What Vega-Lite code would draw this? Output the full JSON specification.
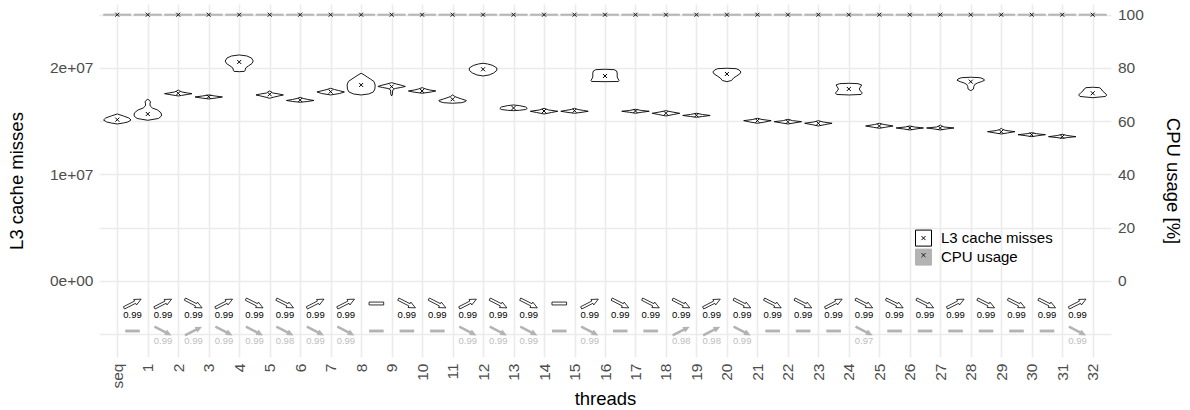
{
 "$schema": "https://vega.github.io/schema/vega-lite/v6.json",
 "width": 1012, "height": 353,
 "autosize": {"type": "none"},
 "padding": {"left": 99, "top": 4, "right": 79, "bottom": 53},
 "background": "white",
 "config": {
  "view": {"stroke": null},
  "font": "Liberation Sans",
  "axis": {"ticks": false, "domain": false, "labelFont": "Liberation Sans", "titleFont": "Liberation Sans", "labelColor": "#4d4d4d", "labelFontSize": 15.5, "titleColor": "black", "titleFontSize": 18.5, "titleFontWeight": "normal", "gridColor": "#ebebeb", "gridWidth": 1.6},
  "axisX": {"labelAngle": -90, "labelOverlap": false, "labelBound": false, "labelFlush": false, "labelPadding": 6, "titlePadding": 2, "labelSeparation": 0}
 },
 "datasets": {
  "l3v": [
   {"t":0,"v":15681000,"w":0},{"t":0,"v":15493000,"w":0.2},{"t":0,"v":15305000,"w":0.38},{"t":0,"v":15117000,"w":0.45},{"t":0,"v":14930000,"w":0.35},{"t":0,"v":14836000,"w":0.2},{"t":0,"v":14742000,"w":0},
   {"t":1,"v":17061000,"w":0},{"t":1,"v":16948000,"w":0.06},{"t":1,"v":16808000,"w":0.09},{"t":1,"v":16620000,"w":0.07},{"t":1,"v":16432000,"w":0.08},{"t":1,"v":16244000,"w":0.15},{"t":1,"v":16056000,"w":0.32},{"t":1,"v":15775000,"w":0.44},{"t":1,"v":15493000,"w":0.45},{"t":1,"v":15258000,"w":0.35},{"t":1,"v":15089000,"w":0},
   {"t":2,"v":17934000,"w":0},{"t":2,"v":17840000,"w":0.05},{"t":2,"v":17747000,"w":0.12},{"t":2,"v":17653000,"w":0.3},{"t":2,"v":17587000,"w":0.45},{"t":2,"v":17512000,"w":0.3},{"t":2,"v":17418000,"w":0.1},{"t":2,"v":17371000,"w":0},
   {"t":3,"v":17465000,"w":0},{"t":3,"v":17371000,"w":0.2},{"t":3,"v":17277000,"w":0.45},{"t":3,"v":17183000,"w":0.25},{"t":3,"v":17089000,"w":0},
   {"t":4,"v":21221000,"w":0},{"t":4,"v":21127000,"w":0.25},{"t":4,"v":20939000,"w":0.4},{"t":4,"v":20657000,"w":0.46},{"t":4,"v":20423000,"w":0.42},{"t":4,"v":20188000,"w":0.3},{"t":4,"v":20000000,"w":0.21},{"t":4,"v":19765000,"w":0.19},{"t":4,"v":19680000,"w":0.17},{"t":4,"v":19653000,"w":0},
   {"t":5,"v":17840000,"w":0},{"t":5,"v":17747000,"w":0.06},{"t":5,"v":17653000,"w":0.1},{"t":5,"v":17559000,"w":0.3},{"t":5,"v":17465000,"w":0.45},{"t":5,"v":17371000,"w":0.3},{"t":5,"v":17249000,"w":0.12},{"t":5,"v":17155000,"w":0},
   {"t":6,"v":17249000,"w":0},{"t":6,"v":17136000,"w":0.1},{"t":6,"v":17042000,"w":0.25},{"t":6,"v":16948000,"w":0.45},{"t":6,"v":16855000,"w":0.25},{"t":6,"v":16779000,"w":0},
   {"t":7,"v":18094000,"w":0},{"t":7,"v":17981000,"w":0.12},{"t":7,"v":17887000,"w":0.25},{"t":7,"v":17747000,"w":0.45},{"t":7,"v":17606000,"w":0.3},{"t":7,"v":17465000,"w":0},
   {"t":8,"v":19502000,"w":0},{"t":8,"v":19343000,"w":0.1},{"t":8,"v":19155000,"w":0.2},{"t":8,"v":18967000,"w":0.3},{"t":8,"v":18733000,"w":0.42},{"t":8,"v":18404000,"w":0.46},{"t":8,"v":18028000,"w":0.45},{"t":8,"v":17747000,"w":0.4},{"t":8,"v":17559000,"w":0.25},{"t":8,"v":17465000,"w":0},
   {"t":9,"v":18620000,"w":0},{"t":9,"v":18498000,"w":0.15},{"t":9,"v":18357000,"w":0.35},{"t":9,"v":18263000,"w":0.45},{"t":9,"v":18169000,"w":0.3},{"t":9,"v":18075000,"w":0.12},{"t":9,"v":17981000,"w":0.05},{"t":9,"v":17840000,"w":0.03},{"t":9,"v":17559000,"w":0.03},{"t":9,"v":17371000,"w":0},
   {"t":10,"v":18150000,"w":0},{"t":10,"v":18028000,"w":0.12},{"t":10,"v":17934000,"w":0.25},{"t":10,"v":17840000,"w":0.45},{"t":10,"v":17747000,"w":0.3},{"t":10,"v":17624000,"w":0},
   {"t":11,"v":17465000,"w":0},{"t":11,"v":17324000,"w":0.07},{"t":11,"v":17230000,"w":0.15},{"t":11,"v":17089000,"w":0.3},{"t":11,"v":16948000,"w":0.45},{"t":11,"v":16855000,"w":0.43},{"t":11,"v":16742000,"w":0.3},{"t":11,"v":16686000,"w":0},
   {"t":12,"v":20441000,"w":0},{"t":12,"v":20376000,"w":0.15},{"t":12,"v":20235000,"w":0.32},{"t":12,"v":20000000,"w":0.45},{"t":12,"v":19765000,"w":0.45},{"t":12,"v":19531000,"w":0.35},{"t":12,"v":19343000,"w":0.2},{"t":12,"v":19249000,"w":0},
   {"t":13,"v":16526000,"w":0},{"t":13,"v":16460000,"w":0.2},{"t":13,"v":16338000,"w":0.4},{"t":13,"v":16197000,"w":0.45},{"t":13,"v":16103000,"w":0.4},{"t":13,"v":16028000,"w":0.2},{"t":13,"v":15991000,"w":0},
   {"t":14,"v":16216000,"w":0},{"t":14,"v":16056000,"w":0.15},{"t":14,"v":15934000,"w":0.45},{"t":14,"v":15822000,"w":0.25},{"t":14,"v":15681000,"w":0},
   {"t":15,"v":16216000,"w":0},{"t":15,"v":16103000,"w":0.1},{"t":15,"v":16009000,"w":0.3},{"t":15,"v":15934000,"w":0.45},{"t":15,"v":15840000,"w":0.25},{"t":15,"v":15747000,"w":0},
   {"t":16,"v":19878000,"w":0},{"t":16,"v":19840000,"w":0.3},{"t":16,"v":19718000,"w":0.38},{"t":16,"v":19531000,"w":0.4},{"t":16,"v":19155000,"w":0.4},{"t":16,"v":18967000,"w":0.43},{"t":16,"v":18826000,"w":0.46},{"t":16,"v":18733000,"w":0.44},{"t":16,"v":18714000,"w":0},
   {"t":17,"v":16122000,"w":0},{"t":17,"v":16009000,"w":0.2},{"t":17,"v":15934000,"w":0.45},{"t":17,"v":15840000,"w":0.2},{"t":17,"v":15747000,"w":0},
   {"t":18,"v":15991000,"w":0},{"t":18,"v":15869000,"w":0.2},{"t":18,"v":15747000,"w":0.45},{"t":18,"v":15634000,"w":0.25},{"t":18,"v":15493000,"w":0},
   {"t":19,"v":15747000,"w":0},{"t":19,"v":15634000,"w":0.2},{"t":19,"v":15540000,"w":0.45},{"t":19,"v":15446000,"w":0.2},{"t":19,"v":15371000,"w":0},
   {"t":20,"v":19972000,"w":0},{"t":20,"v":19934000,"w":0.3},{"t":20,"v":19812000,"w":0.4},{"t":20,"v":19624000,"w":0.46},{"t":20,"v":19437000,"w":0.42},{"t":20,"v":19249000,"w":0.32},{"t":20,"v":19061000,"w":0.22},{"t":20,"v":18826000,"w":0.15},{"t":20,"v":18714000,"w":0},
   {"t":21,"v":15277000,"w":0},{"t":21,"v":15164000,"w":0.15},{"t":21,"v":15052000,"w":0.45},{"t":21,"v":14930000,"w":0.25},{"t":21,"v":14808000,"w":0},
   {"t":22,"v":15183000,"w":0},{"t":22,"v":15052000,"w":0.15},{"t":22,"v":14958000,"w":0.45},{"t":22,"v":14836000,"w":0.2},{"t":22,"v":14742000,"w":0},
   {"t":23,"v":15052000,"w":0},{"t":23,"v":14930000,"w":0.15},{"t":23,"v":14808000,"w":0.45},{"t":23,"v":14676000,"w":0.2},{"t":23,"v":14554000,"w":0},
   {"t":24,"v":18563000,"w":0},{"t":24,"v":18526000,"w":0.3},{"t":24,"v":18404000,"w":0.42},{"t":24,"v":18216000,"w":0.38},{"t":24,"v":18028000,"w":0.34},{"t":24,"v":17840000,"w":0.38},{"t":24,"v":17653000,"w":0.44},{"t":24,"v":17512000,"w":0.4},{"t":24,"v":17465000,"w":0},
   {"t":25,"v":14808000,"w":0},{"t":25,"v":14695000,"w":0.15},{"t":25,"v":14554000,"w":0.45},{"t":25,"v":14432000,"w":0.2},{"t":25,"v":14338000,"w":0},
   {"t":26,"v":14554000,"w":0},{"t":26,"v":14460000,"w":0.15},{"t":26,"v":14366000,"w":0.45},{"t":26,"v":14272000,"w":0.2},{"t":26,"v":14178000,"w":0},
   {"t":27,"v":14648000,"w":0},{"t":27,"v":14554000,"w":0.05},{"t":27,"v":14460000,"w":0.12},{"t":27,"v":14366000,"w":0.45},{"t":27,"v":14272000,"w":0.2},{"t":27,"v":14178000,"w":0},
   {"t":28,"v":19127000,"w":0},{"t":28,"v":19089000,"w":0.3},{"t":28,"v":18967000,"w":0.42},{"t":28,"v":18845000,"w":0.45},{"t":28,"v":18714000,"w":0.35},{"t":28,"v":18592000,"w":0.22},{"t":28,"v":18451000,"w":0.13},{"t":28,"v":18263000,"w":0.1},{"t":28,"v":18028000,"w":0.09},{"t":28,"v":17869000,"w":0},
   {"t":29,"v":14338000,"w":0},{"t":29,"v":14225000,"w":0.05},{"t":29,"v":14131000,"w":0.15},{"t":29,"v":14019000,"w":0.45},{"t":29,"v":13897000,"w":0.2},{"t":29,"v":13803000,"w":0},
   {"t":30,"v":13925000,"w":0},{"t":30,"v":13831000,"w":0.15},{"t":30,"v":13737000,"w":0.45},{"t":30,"v":13643000,"w":0.2},{"t":30,"v":13549000,"w":0},
   {"t":31,"v":13775000,"w":0},{"t":31,"v":13662000,"w":0.15},{"t":31,"v":13549000,"w":0.45},{"t":31,"v":13474000,"w":0.2},{"t":31,"v":13399000,"w":0},
   {"t":32,"v":18188000,"w":0},{"t":32,"v":18150000,"w":0.22},{"t":32,"v":18028000,"w":0.28},{"t":32,"v":17840000,"w":0.32},{"t":32,"v":17653000,"w":0.4},{"t":32,"v":17465000,"w":0.46},{"t":32,"v":17324000,"w":0.42},{"t":32,"v":17211000,"w":0}
  ],
  "cpuv": [
   {"t":0,"v":99.8,"w":0.45},{"t":0,"v":100.2,"w":0.45},{"t":1,"v":99.8,"w":0.45},{"t":1,"v":100.2,"w":0.45},{"t":2,"v":99.8,"w":0.45},{"t":2,"v":100.2,"w":0.45},{"t":3,"v":99.8,"w":0.45},{"t":3,"v":100.2,"w":0.45},
   {"t":4,"v":99.8,"w":0.45},{"t":4,"v":100.2,"w":0.45},{"t":5,"v":99.8,"w":0.45},{"t":5,"v":100.2,"w":0.45},{"t":6,"v":99.8,"w":0.45},{"t":6,"v":100.2,"w":0.45},{"t":7,"v":99.8,"w":0.45},{"t":7,"v":100.2,"w":0.45},
   {"t":8,"v":99.8,"w":0.45},{"t":8,"v":100.2,"w":0.45},{"t":9,"v":99.8,"w":0.45},{"t":9,"v":100.2,"w":0.45},{"t":10,"v":99.8,"w":0.45},{"t":10,"v":100.2,"w":0.45},{"t":11,"v":99.8,"w":0.45},{"t":11,"v":100.2,"w":0.45},
   {"t":12,"v":99.8,"w":0.45},{"t":12,"v":100.2,"w":0.45},{"t":13,"v":99.8,"w":0.45},{"t":13,"v":100.2,"w":0.45},{"t":14,"v":99.8,"w":0.45},{"t":14,"v":100.2,"w":0.45},{"t":15,"v":99.8,"w":0.45},{"t":15,"v":100.2,"w":0.45},
   {"t":16,"v":99.8,"w":0.45},{"t":16,"v":100.2,"w":0.45},{"t":17,"v":99.8,"w":0.45},{"t":17,"v":100.2,"w":0.45},{"t":18,"v":99.8,"w":0.45},{"t":18,"v":100.2,"w":0.45},{"t":19,"v":99.8,"w":0.45},{"t":19,"v":100.2,"w":0.45},
   {"t":20,"v":99.8,"w":0.45},{"t":20,"v":100.2,"w":0.45},{"t":21,"v":99.8,"w":0.45},{"t":21,"v":100.2,"w":0.45},{"t":22,"v":99.8,"w":0.45},{"t":22,"v":100.2,"w":0.45},{"t":23,"v":99.8,"w":0.45},{"t":23,"v":100.2,"w":0.45},
   {"t":24,"v":99.8,"w":0.45},{"t":24,"v":100.2,"w":0.45},{"t":25,"v":99.8,"w":0.45},{"t":25,"v":100.2,"w":0.45},{"t":26,"v":99.8,"w":0.45},{"t":26,"v":100.2,"w":0.45},{"t":27,"v":99.8,"w":0.45},{"t":27,"v":100.2,"w":0.45},
   {"t":28,"v":99.8,"w":0.45},{"t":28,"v":100.2,"w":0.45},{"t":29,"v":99.8,"w":0.45},{"t":29,"v":100.2,"w":0.45},{"t":30,"v":99.8,"w":0.45},{"t":30,"v":100.2,"w":0.45},{"t":31,"v":99.8,"w":0.45},{"t":31,"v":100.2,"w":0.45},
   {"t":32,"v":99.8,"w":0.45},{"t":32,"v":100.2,"w":0.45}
  ],
  "means": [
   {"t":0,"l3":15146000,"cpu":100},{"t":1,"l3":15681000,"cpu":100},{"t":2,"l3":17624000,"cpu":100},{"t":3,"l3":17305000,"cpu":100},{"t":4,"l3":20563000,"cpu":100},{"t":5,"l3":17531000,"cpu":100},{"t":6,"l3":16995000,"cpu":100},{"t":7,"l3":17775000,"cpu":100},{"t":8,"l3":18404000,"cpu":100},{"t":9,"l3":18244000,"cpu":100},{"t":10,"l3":17840000,"cpu":100},
   {"t":11,"l3":17061000,"cpu":100},{"t":12,"l3":19878000,"cpu":100},{"t":13,"l3":16244000,"cpu":100},{"t":14,"l3":15962000,"cpu":100},{"t":15,"l3":15991000,"cpu":100},{"t":16,"l3":19249000,"cpu":100},{"t":17,"l3":15962000,"cpu":100},{"t":18,"l3":15747000,"cpu":100},{"t":19,"l3":15559000,"cpu":100},{"t":20,"l3":19437000,"cpu":100},
   {"t":21,"l3":15052000,"cpu":100},{"t":22,"l3":14958000,"cpu":100},{"t":23,"l3":14808000,"cpu":100},{"t":24,"l3":18028000,"cpu":100},{"t":25,"l3":14554000,"cpu":100},{"t":26,"l3":14366000,"cpu":100},{"t":27,"l3":14366000,"cpu":100},{"t":28,"l3":18714000,"cpu":100},{"t":29,"l3":14019000,"cpu":100},{"t":30,"l3":13737000,"cpu":100},
   {"t":31,"l3":13549000,"cpu":100},{"t":32,"l3":17624000,"cpu":100}
  ],
  "trend": [
   {"k":1,"d":"up","p":0.99,"cd":"flat","cp":null},{"k":2,"d":"up","p":0.99,"cd":"down","cp":0.99},{"k":3,"d":"down","p":0.99,"cd":"up","cp":0.99},{"k":4,"d":"up","p":0.99,"cd":"down","cp":0.99},
   {"k":5,"d":"down","p":0.99,"cd":"down","cp":0.99},{"k":6,"d":"down","p":0.99,"cd":"down","cp":0.98},{"k":7,"d":"up","p":0.99,"cd":"down","cp":0.99},{"k":8,"d":"up","p":0.99,"cd":"down","cp":0.99},
   {"k":9,"d":"flat","p":null,"cd":"flat","cp":null},{"k":10,"d":"down","p":0.99,"cd":"flat","cp":null},{"k":11,"d":"down","p":0.99,"cd":"flat","cp":null},{"k":12,"d":"up","p":0.99,"cd":"down","cp":0.99},
   {"k":13,"d":"down","p":0.99,"cd":"down","cp":0.99},{"k":14,"d":"down","p":0.99,"cd":"down","cp":0.99},{"k":15,"d":"flat","p":null,"cd":"flat","cp":null},{"k":16,"d":"up","p":0.99,"cd":"down","cp":0.99},
   {"k":17,"d":"down","p":0.99,"cd":"flat","cp":null},{"k":18,"d":"down","p":0.99,"cd":"flat","cp":null},{"k":19,"d":"down","p":0.99,"cd":"up","cp":0.98},{"k":20,"d":"up","p":0.99,"cd":"up","cp":0.98},
   {"k":21,"d":"down","p":0.99,"cd":"down","cp":0.99},{"k":22,"d":"down","p":0.99,"cd":"flat","cp":null},{"k":23,"d":"down","p":0.99,"cd":"flat","cp":null},{"k":24,"d":"up","p":0.99,"cd":"flat","cp":null},
   {"k":25,"d":"down","p":0.99,"cd":"down","cp":0.97},{"k":26,"d":"down","p":0.99,"cd":"flat","cp":null},{"k":27,"d":"down","p":0.99,"cd":"flat","cp":null},{"k":28,"d":"up","p":0.99,"cd":"flat","cp":null},
   {"k":29,"d":"down","p":0.99,"cd":"flat","cp":null},{"k":30,"d":"down","p":0.99,"cd":"flat","cp":null},{"k":31,"d":"down","p":0.99,"cd":"flat","cp":null},{"k":32,"d":"up","p":0.99,"cd":"down","cp":0.99}
  ]
 },
 "layer": [
  {"layer": [
   {"data": {"name": "l3v"},
    "transform": [{"calculate": "datum.t - datum.w", "as": "lo"}, {"calculate": "datum.t + datum.w", "as": "hi"}],
    "mark": {"type": "area", "orient": "horizontal", "strokeWidth": 0.9, "interpolate": "linear", "opacity": 1},
    "encoding": {
     "y": {"field": "v", "type": "quantitative", "title": "L3 cache misses", "scale": {"domain": [-7135000, 26005000], "nice": false, "zero": false},
       "axis": {"orient": "left", "values": [-5000000, 0, 5000000, 10000000, 15000000, 20000000, 25000000],
         "labelExpr": "datum.value == 0 ? '0e+00' : datum.value == 10000000 ? '1e+07' : datum.value == 20000000 ? '2e+07' : ''",
         "labelPadding": 6, "titlePadding": 23}},
     "x": {"field": "lo", "type": "quantitative", "title": "threads", "scale": {"domain": [-0.6, 32.6], "nice": false, "zero": false},
       "axis": {"values": [0,1,2,3,4,5,6,7,8,9,10,11,12,13,14,15,16,17,18,19,20,21,22,23,24,25,26,27,28,29,30,31,32], "labelExpr": "datum.value == 0 ? 'seq' : '' + datum.value", "labelOverlap": false}},
     "x2": {"field": "hi"},
     "detail": {"field": "t", "type": "nominal"},
     "fill": {"datum": "L3 cache misses", "scale": {"domain": ["L3 cache misses", "CPU usage"], "range": ["white", "#b3b3b3"]},
       "legend": {"title": null, "orient": "none", "legendX": 816, "legendY": 225.6, "symbolType": "square", "symbolSize": 256, "symbolStrokeWidth": 1, "labelFontSize": 15, "labelColor": "black", "labelOffset": 9, "rowPadding": -10, "padding": 0, "zindex": 1, "labelFont": "Liberation Sans"}},
     "stroke": {"datum": "L3 cache misses", "scale": {"domain": ["L3 cache misses", "CPU usage"], "range": ["black", "#b3b3b3"]},
       "legend": {"title": null, "orient": "none", "legendX": 816, "legendY": 225.6, "symbolType": "square", "symbolSize": 256, "symbolStrokeWidth": 1, "labelFontSize": 15, "labelColor": "black", "labelOffset": 9, "rowPadding": -10, "padding": 0, "zindex": 1, "labelFont": "Liberation Sans"}}
    }},
   {"data": {"name": "means"},
    "mark": {"type": "point", "shape": "M-1,-1L1,1M-1,1L1,-1", "filled": false, "size": 16, "strokeWidth": 1, "opacity": 1},
    "encoding": {
     "x": {"field": "t", "type": "quantitative", "axis": {"values": [0,1,2,3,4,5,6,7,8,9,10,11,12,13,14,15,16,17,18,19,20,21,22,23,24,25,26,27,28,29,30,31,32], "labelExpr": "datum.value == 0 ? 'seq' : '' + datum.value", "labelOverlap": false}},
     "y": {"field": "l3", "type": "quantitative"},
     "color": {"datum": "L3 cache misses", "scale": {"domain": ["CPU usage", "L3 cache misses"], "range": ["#1a1a1a", "black"]},
       "legend": {"title": null, "orient": "none", "legendX": 816, "legendY": 225.6, "values": ["L3 cache misses", "CPU usage"], "symbolType": "M-0.25,-0.25L0.25,0.25M-0.25,0.25L0.25,-0.25", "symbolSize": 256, "symbolStrokeWidth": 1, "symbolFillColor": "transparent", "labelFontSize": 15, "labelColor": "transparent", "labelOffset": 9, "rowPadding": -10, "padding": 0, "zindex": 2, "labelFont": "Liberation Sans"}}
    }},
   {"data": {"name": "trend"},
    "transform": [{"calculate": "datum.k - 0.5", "as": "mid"}],
    "mark": {"type": "point", "filled": true, "fill": "white", "stroke": "black", "strokeWidth": 0.8, "size": 370, "opacity": 1},
    "encoding": {
     "x": {"field": "mid", "type": "quantitative", "axis": {"values": [0,1,2,3,4,5,6,7,8,9,10,11,12,13,14,15,16,17,18,19,20,21,22,23,24,25,26,27,28,29,30,31,32], "labelExpr": "datum.value == 0 ? 'seq' : '' + datum.value", "labelOverlap": false}},
     "y": {"datum": -2113000, "type": "quantitative"},
     "shape": {"field": "d", "type": "nominal", "scale": {"domain": ["up", "down", "flat"], "range": ["M-0.95,0.338L0.208,-0.252L0.122,-0.421L0.891,-0.454L0.412,0.149L0.326,-0.02L-0.832,0.57Z", "M-0.95,-0.338L0.208,0.252L0.122,0.421L0.891,0.454L0.412,-0.149L0.326,0.02L-0.832,-0.57Z", "M-0.76,-0.15H0.76V0.15H-0.76Z"]}, "legend": null}
    }},
   {"data": {"name": "trend"},
    "transform": [{"filter": "datum.p != null"}, {"calculate": "datum.k - 0.5", "as": "mid"}],
    "mark": {"type": "text", "fontSize": 9.5, "color": "black", "baseline": "middle", "font": "Liberation Sans"},
    "encoding": {
     "x": {"field": "mid", "type": "quantitative", "axis": {"values": [0,1,2,3,4,5,6,7,8,9,10,11,12,13,14,15,16,17,18,19,20,21,22,23,24,25,26,27,28,29,30,31,32], "labelExpr": "datum.value == 0 ? 'seq' : '' + datum.value", "labelOverlap": false}},
     "y": {"datum": -3164000, "type": "quantitative"},
     "text": {"field": "p", "type": "quantitative", "format": ".2f"}
    }},
   {"data": {"name": "trend"},
    "transform": [{"calculate": "datum.k - 0.5", "as": "mid"}],
    "mark": {"type": "point", "filled": true, "fill": "#b3b3b3", "strokeWidth": 0, "size": 370, "opacity": 1},
    "encoding": {
     "x": {"field": "mid", "type": "quantitative", "axis": {"values": [0,1,2,3,4,5,6,7,8,9,10,11,12,13,14,15,16,17,18,19,20,21,22,23,24,25,26,27,28,29,30,31,32], "labelExpr": "datum.value == 0 ? 'seq' : '' + datum.value", "labelOverlap": false}},
     "y": {"datum": -4695000, "type": "quantitative"},
     "shape": {"field": "cd", "type": "nominal", "legend": null}
    }},
   {"data": {"name": "trend"},
    "transform": [{"filter": "datum.cp != null"}, {"calculate": "datum.k - 0.5", "as": "mid"}],
    "mark": {"type": "text", "fontSize": 9.5, "color": "#bdbdbd", "baseline": "middle", "font": "Liberation Sans"},
    "encoding": {
     "x": {"field": "mid", "type": "quantitative", "axis": {"values": [0,1,2,3,4,5,6,7,8,9,10,11,12,13,14,15,16,17,18,19,20,21,22,23,24,25,26,27,28,29,30,31,32], "labelExpr": "datum.value == 0 ? 'seq' : '' + datum.value", "labelOverlap": false}},
     "y": {"datum": -5634000, "type": "quantitative"},
     "text": {"field": "cp", "type": "quantitative", "format": ".2f"}
    }}
  ]},
  {"layer": [
   {"data": {"name": "cpuv"},
    "transform": [{"calculate": "datum.t - datum.w", "as": "lo"}, {"calculate": "datum.t + datum.w", "as": "hi"}],
    "mark": {"type": "area", "orient": "horizontal", "strokeWidth": 0.9, "opacity": 1},
    "encoding": {
     "y": {"field": "v", "type": "quantitative", "title": "CPU usage [%]", "scale": {"domain": [-28.54, 104.02], "nice": false, "zero": false},
       "axis": {"orient": "right", "values": [0, 20, 40, 60, 80, 100], "grid": false, "labelPadding": 6.5, "titlePadding": 19}},
     "x": {"field": "lo", "type": "quantitative", "axis": {"values": [0,1,2,3,4,5,6,7,8,9,10,11,12,13,14,15,16,17,18,19,20,21,22,23,24,25,26,27,28,29,30,31,32], "labelExpr": "datum.value == 0 ? 'seq' : '' + datum.value", "labelOverlap": false}},
     "x2": {"field": "hi"},
     "detail": {"field": "t", "type": "nominal"},
     "fill": {"datum": "CPU usage", "scale": {"domain": ["L3 cache misses", "CPU usage"], "range": ["white", "#b3b3b3"]}},
     "stroke": {"datum": "CPU usage", "scale": {"domain": ["L3 cache misses", "CPU usage"], "range": ["black", "#b3b3b3"]}}
    }},
   {"data": {"name": "means"},
    "mark": {"type": "point", "shape": "M-1,-1L1,1M-1,1L1,-1", "filled": false, "size": 16, "strokeWidth": 1, "opacity": 1},
    "encoding": {
     "x": {"field": "t", "type": "quantitative", "axis": {"values": [0,1,2,3,4,5,6,7,8,9,10,11,12,13,14,15,16,17,18,19,20,21,22,23,24,25,26,27,28,29,30,31,32], "labelExpr": "datum.value == 0 ? 'seq' : '' + datum.value", "labelOverlap": false}},
     "y": {"field": "cpu", "type": "quantitative"},
     "color": {"datum": "CPU usage", "scale": {"domain": ["CPU usage", "L3 cache misses"], "range": ["#1a1a1a", "black"]}}
    }}
  ]}
 ],
 "resolve": {"scale": {"y": "independent"}}
}
